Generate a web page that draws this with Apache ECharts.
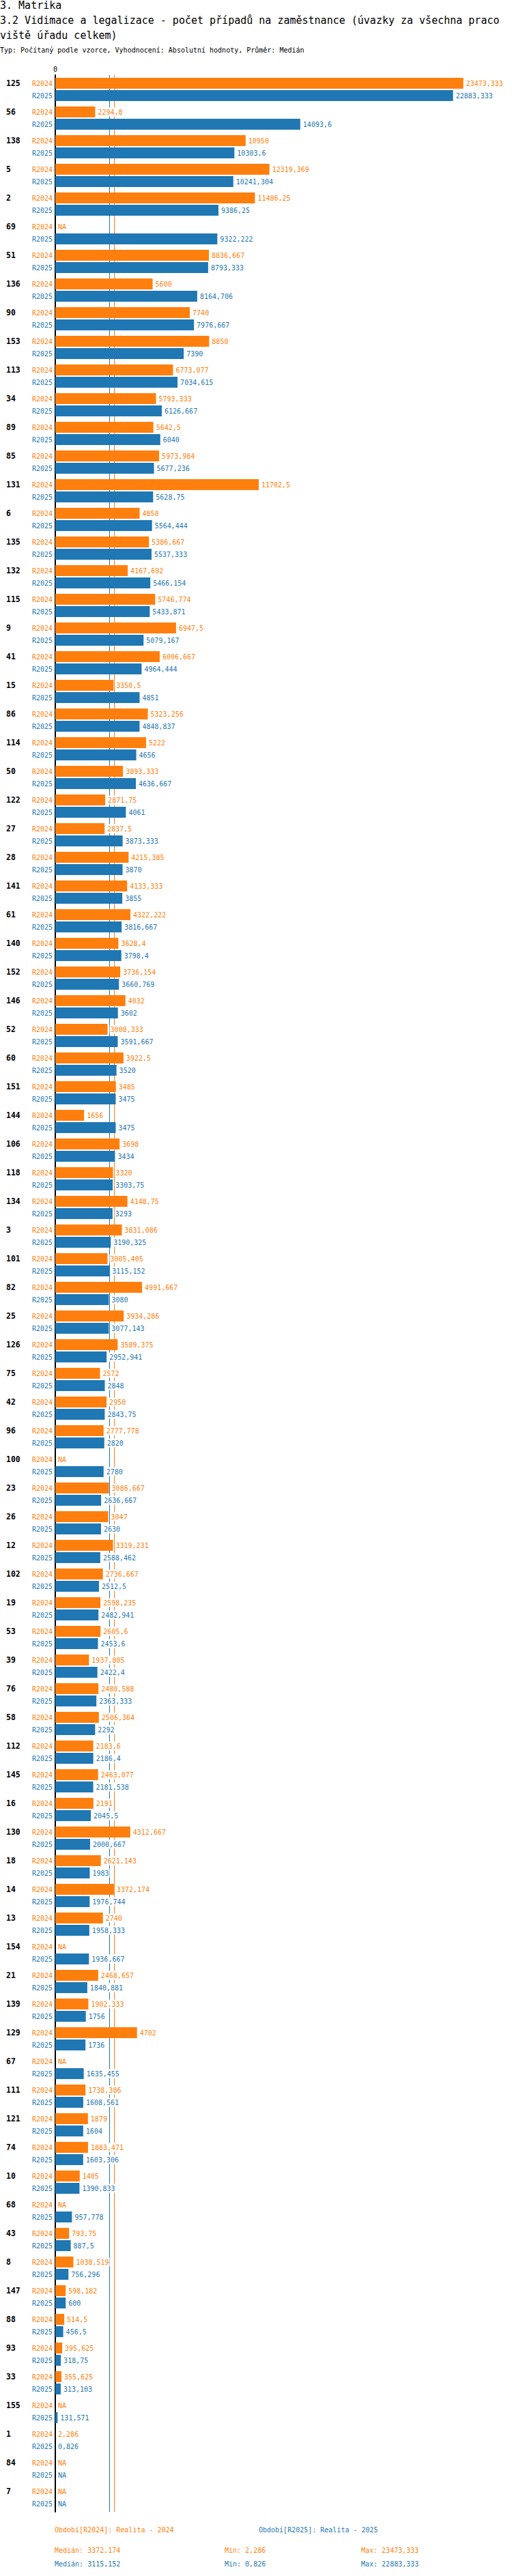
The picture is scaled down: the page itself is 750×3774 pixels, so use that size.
<!DOCTYPE html>
<html>
<head>
<meta charset="utf-8">
<script src="https://cdn.jsdelivr.net/npm/echarts@6/dist/echarts.min.js"></script>
<style>html,body{margin:0;padding:0;background:#fff}#c{width:750px;height:3774px}</style>
</head>
<body>
<div id="c"></div>
<script>
const categories = ['125','56','138','5','2','69','51','136','90','153','113','34','89','85','131','6','135','132','115','9','41','15','86','114','50','122','27','28','141','61','140','152','146','52','60','151','144','106','118','134','3','101','82','25','126','75','42','96','100','23','26','12','102','19','53','39','76','58','112','145','16','130','18','14','13','154','21','139','129','67','111','121','74','10','68','43','8','147','88','93','33','155','1','84','7'];

const seriesNames = ['R2024', 'R2025'];
const periodLabels = ['Období[R2024]: Realita - 2024', 'Období[R2025]: Realita - 2025'];

const values2024 = [23473.333, 2294.8, 10950, 12319.369, 11486.25, null, 8836.667, 5600, 7740, 8850,
  6773.077, 5793.333, 5642.5, 5973.984, 11702.5, 4850, 5386.667, 4167.692, 5746.774, 6947.5,
  6006.667, 3350.5, 5323.256, 5222, 3893.333, 2871.75, 2837.5, 4215.385, 4133.333, 4322.222,
  3628.4, 3736.154, 4032, 3008.333, 3922.5, 3485, 1656, 3698, 3320, 4148.75,
  3831.086, 3005.405, 4991.667, 3934.286, 3589.375, 2572, 2950, 2777.778, null, 3086.667,
  3047, 3319.231, 2736.667, 2598.235, 2605.6, 1937.805, 2480.588, 2506.364, 2183.6, 2463.077,
  2191, 4312.667, 2621.143, 3372.174, 2740, null, 2468.657, 1902.333, 4702, null,
  1738.386, 1879, 1883.471, 1405, null, 793.75, 1038.519, 598.182, 514.5, 395.625,
  355.625, null, 2.286, null, null];

const values2025 = [22883.333, 14093.6, 10303.6, 10241.304, 9386.25, 9322.222, 8793.333, 8164.706, 7976.667, 7390,
  7034.615, 6126.667, 6040, 5677.236, 5628.75, 5564.444, 5537.333, 5466.154, 5433.871, 5079.167,
  4964.444, 4851, 4848.837, 4656, 4636.667, 4061, 3873.333, 3870, 3855, 3816.667,
  3798.4, 3660.769, 3602, 3591.667, 3520, 3475, 3475, 3434, 3303.75, 3293,
  3190.325, 3115.152, 3080, 3077.143, 2952.941, 2848, 2843.75, 2820, 2780, 2636.667,
  2630, 2588.462, 2512.5, 2482.941, 2453.6, 2422.4, 2363.333, 2292, 2186.4, 2181.538,
  2045.5, 2000.667, 1983, 1976.744, 1958.333, 1936.667, 1840.881, 1756, 1736, 1635.455,
  1608.561, 1604, 1603.306, 1390.833, 957.778, 887.5, 756.296, 600, 456.5, 318.75,
  313.103, 131.571, 0.826, null, null];

const titleLines = ['3. Matrika', '3.2 Vidimace a legalizace - počet případů na zaměstnance (úvazky za všechna praco', 'viště úřadu celkem)'];
const subtitleText = 'Typ: Počítaný podle vzorce, Vyhodnocení: Absolutní hodnoty, Průměr: Medián';

const seriesValues = [values2024, values2025];
const COLORS = ['#ff7f0e', '#1f77b4'];
const FONT = "'DejaVu Sans Mono', monospace";

function fmt(v) { return v == null ? 'NA' : String(v).replace('.', ','); }
function stats(arr) {
  const v = arr.filter(x => x != null).sort((a, b) => a - b);
  const n = v.length;
  const med = n % 2 ? v[(n - 1) / 2] : (v[n / 2 - 1] + v[n / 2]) / 2;
  return { med: med, min: v[0], max: v[n - 1] };
}
const st = seriesValues.map(stats);

const chart = echarts.init(document.getElementById('c'), null, { renderer: 'svg' });

const rich = {
  c: { width: 38, align: 'left', fontFamily: FONT, fontWeight: 'bold', fontSize: 11.5, color: '#000', lineHeight: 18 },
  s: { width: 38, lineHeight: 18 },
  a: { width: 30, align: 'right', fontFamily: FONT, fontSize: 10, color: COLORS[0], lineHeight: 18 },
  b: { width: 30, align: 'right', fontFamily: FONT, fontSize: 10, color: COLORS[1], lineHeight: 18 }
};

const graphics = [];
periodLabels.forEach((t, i) => {
  graphics.push({ type: 'text', x: [80, 379][i], y: 3706, silent: true,
    style: { text: t, fill: COLORS[i], font: '10px ' + FONT, verticalAlign: 'middle' } });
});
st.forEach((s, i) => {
  const y = [3736, 3756][i];
  [['Medián: ' + fmt(s.med), 80], ['Min: ' + fmt(s.min), 329], ['Max: ' + fmt(s.max), 529]].forEach(([t, x]) => {
    graphics.push({ type: 'text', x: x, y: y, silent: true,
      style: { text: t, fill: COLORS[i], font: '10px ' + FONT, verticalAlign: 'middle' } });
  });
});

chart.setOption({
  animation: false,
  backgroundColor: '#fff',
  title: [
    { text: titleLines.join('\n'), left: 0, top: -3, padding: 0,
      textStyle: { fontFamily: FONT, fontSize: 15, fontWeight: 'normal', color: '#000', lineHeight: 22 } },
    { text: subtitleText, left: 0, top: 66, padding: 0,
      textStyle: { fontFamily: FONT, fontSize: 10, fontWeight: 'normal', color: '#000', lineHeight: 14 } }
  ],
  grid: { left: 81, right: 7, top: 110, height: 3570, containLabel: false },
  xAxis: {
    type: 'value', position: 'top', min: 0, max: 26000, interval: 26000,
    axisLine: { show: false }, axisTick: { show: false }, splitLine: { show: false },
    axisLabel: { showMaxLabel: false, margin: 4, fontFamily: FONT, fontSize: 10, color: '#000',
      formatter: v => (v === 0 ? '0' : '') }
  },
  yAxis: {
    type: 'category', inverse: true, data: categories,
    axisLine: { show: true, lineStyle: { color: '#000', width: 2 } },
    axisTick: { show: false }, splitLine: { show: false },
    axisLabel: { interval: 0, margin: 4,
      formatter: c => '{c|' + c + '}{a|' + seriesNames[0] + '}\n{s|}{b|' + seriesNames[1] + '}',
      rich: rich }
  },
  series: seriesValues.map((vals, i) => ({
    type: 'bar',
    name: seriesNames[i],
    data: vals.map(v => (v == null ? 0 : v)),
    barWidth: 16,
    barGap: '12.5%',
    z: 2,
    itemStyle: { color: COLORS[i] },
    label: { show: true, position: 'right', distance: 3, color: COLORS[i], fontFamily: FONT, fontSize: 10,
      backgroundColor: '#fff', padding: [2, 1, 1, 1],
      formatter: p => fmt(vals[p.dataIndex]) },
    markLine: { silent: true, symbol: 'none', z: 1, animation: false,
      label: { show: false },
      lineStyle: { color: COLORS[i], width: 1, type: 'solid' },
      emphasis: { disabled: true },
      data: [{ xAxis: st[i].med }] }
  })),
  graphic: graphics
});
</script>
</body>
</html>
